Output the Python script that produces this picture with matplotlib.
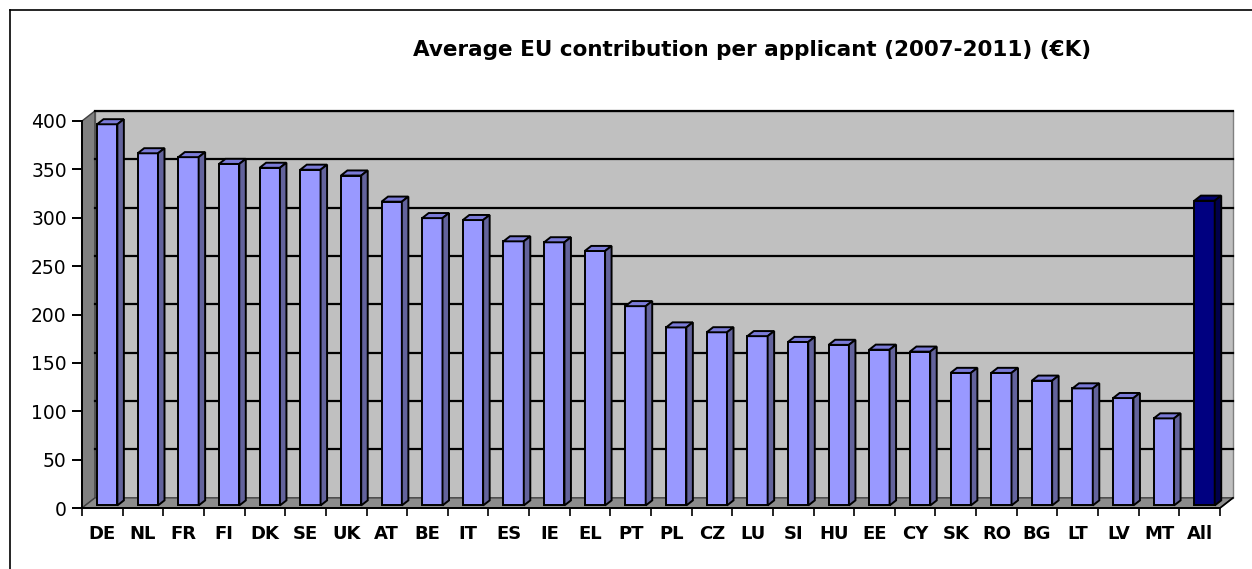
import numpy as np
import matplotlib
matplotlib.use("Agg")
import matplotlib.pyplot as plt
from matplotlib.patches import Polygon
from matplotlib.lines import Line2D

# Data
countries = ["DE", "NL", "FR", "FI", "DK", "SE", "UK", "AT", "BE", "IT", "ES", "IE", "EL", "PT",
             "PL", "CZ", "LU", "SI", "HU", "EE", "CY", "SK", "RO", "BG", "LT", "LV", "MT", "All"]
values = [394, 364, 360, 353, 349, 347, 341, 314, 297, 295, 273, 272, 263, 206,
          184, 179, 175, 169, 166, 161, 159, 137, 137, 129, 121, 111, 90, 315]
title = "Average EU contribution per applicant (2007-2011) (€K)"
yticks = [0, 50, 100, 150, 200, 250, 300, 350, 400]

plt.rcParams['font.family'] = ['DejaVu Sans']

# 3D look: depth offset of the back wall in data units
DX = 0.32
DY = 10.5
ymax = 400
n = len(countries)

fig = plt.figure(figsize=(12.52, 5.69), dpi=100)
ax = fig.add_axes([82/1252, 61/569, 1138/1252, 387/569])
ax.set_xlim(0, n)
ax.set_ylim(0, ymax)
ax.patch.set_alpha(0)

# back wall, left wall, floor
ax.add_patch(Polygon([(DX, DY), (n + DX, DY), (n + DX, ymax + DY), (DX, ymax + DY)],
                     closed=True, facecolor="#c0c0c0", edgecolor="#808080", lw=1,
                     clip_on=False, zorder=0))
ax.add_patch(Polygon([(0, 0), (DX, DY), (DX, ymax + DY), (0, ymax)],
                     closed=True, facecolor="#808080", edgecolor="#404040", lw=1,
                     clip_on=False, zorder=0.5))
ax.add_patch(Polygon([(0, 0), (n, 0), (n + DX, DY), (DX, DY)],
                     closed=True, facecolor="#8c8c8c", edgecolor="#404040", lw=1,
                     clip_on=False, zorder=0.5))

# gridlines on back wall
for v in yticks[1:]:
    ax.plot([DX, n + DX], [v + DY, v + DY], color="black", lw=1.6,
            clip_on=False, zorder=1)

# bars
z0, z1 = 0.25, 0.75
bw = 0.50
x0 = np.arange(n) + 0.29 + z0 * DX
base = z0 * DY
front = ["#9999ff"] * (n - 1) + ["#000080"]
topc = ["#7b7bd8"] * (n - 1) + ["#000070"]
sidec = ["#63639c"] * (n - 1) + ["#00004a"]
vals = np.array(values, dtype=float)

ax.bar(x0, vals, width=bw, bottom=base, align="edge", color=front,
       edgecolor="black", lw=1.4, zorder=3, clip_on=False)
ddx = (z1 - z0) * DX
ddy = (z1 - z0) * DY
for i in range(n):
    xl, xr = x0[i], x0[i] + bw
    yt = vals[i] + base
    ax.add_patch(Polygon([(xl, yt), (xr, yt), (xr + ddx, yt + ddy), (xl + ddx, yt + ddy)],
                         closed=True, facecolor=topc[i], edgecolor="black", lw=1.4,
                         zorder=3, clip_on=False))
    ax.add_patch(Polygon([(xr, base), (xr + ddx, base + ddy), (xr + ddx, yt + ddy), (xr, yt)],
                         closed=True, facecolor=sidec[i], edgecolor="black", lw=1.4,
                         zorder=3, clip_on=False))

# axes
for s in ["top", "right"]:
    ax.spines[s].set_visible(False)
ax.spines["left"].set_linewidth(1.4)
ax.spines["bottom"].set_linewidth(1.4)
ax.spines["left"].set_zorder(4)
ax.spines["bottom"].set_zorder(4)
ax.plot([n, n + DX], [0, DY], color="black", lw=1.2, clip_on=False, zorder=4)

ax.set_yticks(yticks)
ax.set_yticklabels([str(v) for v in yticks], fontsize=13.5)
ax.tick_params(axis="y", direction="out", length=7, width=1.4, pad=4)

ax.set_xticks(np.arange(n + 1))
ax.set_xticklabels([])
ax.tick_params(axis="x", which="major", direction="out", length=6, width=1.2)
ax.set_xticks(np.arange(n) + 0.5, minor=True)
ax.set_xticklabels(countries, minor=True, fontsize=13, fontweight="bold")
ax.tick_params(axis="x", which="minor", length=0, pad=12)

fig.text(752/1252, 1 - 50/569, title, ha="center", va="center",
         fontsize=15.5, fontweight="bold")

# outer frame (left and top only visible)
fig.add_artist(Line2D([10/1252, 10/1252], [0, 1 - 10/569], color="black", lw=1.2))
fig.add_artist(Line2D([10/1252, 1], [1 - 10/569, 1 - 10/569], color="black", lw=1.2))

fig.savefig("out.png", dpi=100)
